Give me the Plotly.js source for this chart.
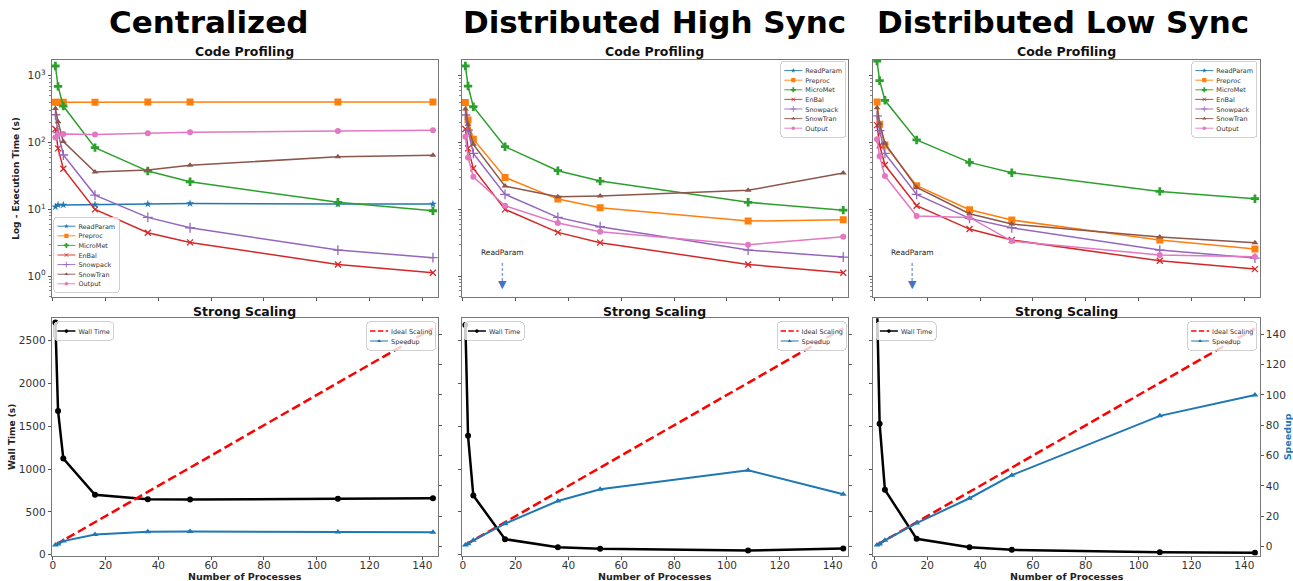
<!DOCTYPE html>
<html><head><meta charset="utf-8">
<script src="https://cdn.plot.ly/plotly-3.0.1.min.js"></script>
<style>html,body{margin:0;padding:0;background:#fff}#chart{width:1293px;height:581px}</style>
</head><body><div id="chart"></div>
<script>
// ---------------- DATA ----------------
const procs = [1, 2, 4, 16, 36, 52, 108, 144];
const seriesNames = ['ReadParam','Preproc','MicroMet','EnBal','Snowpack','SnowTran','Output'];
const panelTitles = ['Centralized','Distributed High Sync','Distributed Low Sync'];

// Code profiling, execution time (s)
const cen_ReadParam = [10.9, 11.6, 11.6, 11.7, 12.0, 12.2, 12.0, 12.0];
const cen_Preproc   = [400, 400, 400, 400, 402, 403, 404, 405];
const cen_MicroMet  = [1396, 692, 351, 83.6, 37.3, 25.8, 12.7, 9.5];
const cen_EnBal     = [159, 81.6, 40.4, 9.96, 4.45, 3.19, 1.49, 1.12];
const cen_Snowpack  = [260, 140, 64.9, 16.3, 7.55, 5.28, 2.45, 1.88];
const cen_SnowTran  = [324, 204, 103, 36, 38.6, 45.4, 61.2, 64.1];
const cen_Output    = [119, 132, 134, 132, 137, 142, 148, 153];

const hs_ReadParam = [0.30, 0.22, 0.18, 0.12, 0.10, 0.09, 0.08, 0.08];
const hs_Preproc   = [398, 217, 112, 30, 14.2, 10.5, 6.65, 6.97];
const hs_MicroMet  = [1396, 700, 343, 86.5, 37.8, 26.4, 12.7, 9.7];
const hs_EnBal     = [159, 81.6, 40.9, 9.96, 4.5, 3.16, 1.49, 1.12];
const hs_Snowpack  = [258, 153, 68.7, 16.7, 7.55, 5.47, 2.45, 1.92];
const hs_SnowTran  = [317, 187, 93.7, 22.2, 15.4, 15.8, 19.2, 34.8];
const hs_Output    = [122, 59.8, 30.7, 11.3, 6.21, 4.6, 2.94, 3.88];

const ls_ReadParam = [0.30, 0.22, 0.18, 0.12, 0.10, 0.09, 0.08, 0.08];
const ls_Preproc   = [404, 187, 91.6, 22.5, 9.84, 6.89, 3.46, 2.54];
const ls_MicroMet  = [1660, 841, 428, 109, 50.3, 35.2, 18.5, 14.4];
const ls_EnBal     = [182, 90.6, 45.9, 11.3, 5.05, 3.46, 1.69, 1.27];
const ls_Snowpack  = [250, 150, 68.7, 16.7, 7.3, 5.28, 2.45, 1.86];
const ls_SnowTran  = [332, 193, 97, 21.2, 8.57, 6.0, 3.83, 3.15];
const ls_Output    = [112, 62, 31.4, 7.9, 7.55, 3.34, 2.06, 1.95];

// Strong scaling
const cen_wall = [2706, 1677, 1122, 699, 648, 644, 652, 660];
const hs_wall  = [2679, 1386, 691, 182, 89, 70, 50, 74];
const ls_wall  = [2950, 1526, 757, 186, 89, 58, 31, 23];
const cen_speedup = [1, 1.6, 3.5, 7.8, 9.7, 9.9, 9.5, 9.3];
const hs_speedup  = [1, 1.8, 4, 15, 30, 37.7, 50.3, 34.4];
const ls_speedup  = [1, 1.6, 4, 15.4, 31.8, 47, 86.2, 100];
const ideal_speedup = [1, 2, 4, 16, 36, 52, 108, 144];

const logTickVals = [1, 10, 100, 1000];
const logTickText = ['10<sup>0</sup>','10<sup>1</sup>','10<sup>2</sup>','10<sup>3</sup>'];

// ---------------- LAYOUT HELPERS ----------------
const W = 1293, H = 581;
const fx = v => v / W;
const fy = v => 1 - v / H;
const FONT = 'DejaVu Sans, Liberation Sans, sans-serif';
const xDom = [[51.7, 437.7], [461.7, 848], [873.3, 1259.7]].map(d => [fx(d[0]), fx(d[1])]);
const topDom = [fy(297), fy(60)];
const botDom = [fy(555.5), fy(318.3)];
const xRange = [-0.4, 145.8];
const logRange = [-0.314, 3.235];
const wallRange = [-8, 2756];
const spRange = [-6, 150.6];

const styles = {
  ReadParam: {color:'#1f77b4', symbol:'star', size:6},
  Preproc:   {color:'#ff7f0e', symbol:'square', size:7},
  MicroMet:  {color:'#2ca02c', symbol:'cross', size:7},
  EnBal:     {color:'#d62728', symbol:'x-thin', size:6, thin:true},
  Snowpack:  {color:'#9467bd', symbol:'cross-thin', size:7, thin:true},
  SnowTran:  {color:'#8c564b', symbol:'triangle-up', size:6},
  Output:    {color:'#e377c2', symbol:'circle', size:6}
};

const profileData = [
  {ReadParam:cen_ReadParam, Preproc:cen_Preproc, MicroMet:cen_MicroMet, EnBal:cen_EnBal, Snowpack:cen_Snowpack, SnowTran:cen_SnowTran, Output:cen_Output},
  {ReadParam:hs_ReadParam, Preproc:hs_Preproc, MicroMet:hs_MicroMet, EnBal:hs_EnBal, Snowpack:hs_Snowpack, SnowTran:hs_SnowTran, Output:hs_Output},
  {ReadParam:ls_ReadParam, Preproc:ls_Preproc, MicroMet:ls_MicroMet, EnBal:ls_EnBal, Snowpack:ls_Snowpack, SnowTran:ls_SnowTran, Output:ls_Output}
];
const wallData = [cen_wall, hs_wall, ls_wall];
const speedData = [cen_speedup, hs_speedup, ls_speedup];

const traces = [];
profileData.forEach((pd, p) => {
  const xa = p === 0 ? 'x' : 'x' + (p + 1);
  const ya = p === 0 ? 'y' : 'y' + (p + 1);
  const lg = p === 0 ? 'legend' : 'legend' + (p + 1);
  seriesNames.forEach(n => {
    const st = styles[n];
    const mk = {symbol: st.symbol, size: st.size, color: st.color};
    if (st.thin) mk.line = {color: st.color, width: 1.3};
    traces.push({x: procs, y: pd[n], xaxis: xa, yaxis: ya, name: n, legend: lg,
      mode: 'lines+markers', line: {color: st.color, width: 1.5}, marker: mk, cliponaxis: true});
  });
});
for (let p = 0; p < 3; p++) {
  const xa = 'x' + (p + 4), yw = 'y' + (p + 4), ys = 'y' + (p + 7);
  traces.push({x: procs, y: wallData[p], xaxis: xa, yaxis: yw, name: 'Wall Time', legend: 'legend' + (4 + 2 * p),
    mode: 'lines+markers', line: {color: 'black', width: 2.5}, marker: {symbol: 'circle', size: 6, color: 'black'}});
  traces.push({x: procs, y: ideal_speedup, xaxis: xa, yaxis: ys, name: 'Ideal Scaling', legend: 'legend' + (5 + 2 * p),
    mode: 'lines', line: {color: 'red', width: 2.5, dash: '9px,4px'}});
  traces.push({x: procs, y: speedData[p], xaxis: xa, yaxis: ys, name: 'Speedup', legend: 'legend' + (5 + 2 * p),
    mode: 'lines+markers', line: {color: '#1f77b4', width: 2}, marker: {symbol: 'triangle-up', size: 6, color: '#1f77b4'}});
}

const frame = {showline: true, linecolor: '#777', linewidth: 1, mirror: true, ticks: 'outside', ticklen: 3,
  tickwidth: 1, tickcolor: '#555', zeroline: false, showgrid: false, tickfont: {size: 10.5, color: '#333', family: FONT}};

const layout = {
  width: W, height: H, margin: {l: 0, r: 0, t: 0, b: 0}, paper_bgcolor: '#fff', plot_bgcolor: '#fff',
  font: {family: FONT, color: '#222'}, showlegend: true, annotations: [], shapes: []
};

for (let p = 0; p < 3; p++) {
  const sx = p === 0 ? '' : String(p + 1);
  layout['xaxis' + sx] = Object.assign({}, frame, {domain: xDom[p], range: xRange, tick0: 0, dtick: 20,
    showticklabels: false, anchor: 'y' + sx});
  layout['yaxis' + sx] = Object.assign({}, frame, {domain: topDom, type: 'log', range: logRange,
    tickmode: 'array', tickvals: logTickVals, ticktext: logTickText, showticklabels: p === 0, anchor: 'x' + sx,
    minor: {ticks: 'outside', ticklen: 2, tickwidth: 0.8, tickcolor: '#666', dtick: 'D1', showgrid: false}});
  const bx = String(p + 4), sy = String(p + 7);
  layout['xaxis' + bx] = Object.assign({}, frame, {domain: xDom[p], range: xRange, tick0: 0, dtick: 20,
    anchor: 'y' + bx, ticklabelstandoff: -3});
  layout['yaxis' + bx] = Object.assign({}, frame, {domain: botDom, range: wallRange, tick0: 0, dtick: 500,
    showticklabels: p === 0, anchor: 'x' + bx});
  layout['yaxis' + sy] = Object.assign({}, frame, {range: spRange, tick0: 0, dtick: 20, overlaying: 'y' + bx,
    side: 'right', anchor: 'x' + bx, showticklabels: p === 2, mirror: false});
  // x-axis title of bottom panels
  layout.annotations.push({text: '<b>Number of Processes</b>', xref: 'paper', yref: 'paper',
    x: (xDom[p][0] + xDom[p][1]) / 2, y: fy(576.5), xanchor: 'center', yanchor: 'middle', showarrow: false,
    font: {size: 9.5, color: '#222', family: FONT}});
}
layout.yaxis.title = {text: '<b>Log - Execution Time (s)</b>', font: {size: 9, color: '#222'}, standoff: 6};
layout.yaxis4.title = {text: '<b>Wall Time (s)</b>', font: {size: 9, color: '#222'}, standoff: 1};
layout.yaxis9.title = {text: '<b>Speedup</b>', font: {size: 9.5, color: '#1f77b4'}, standoff: 6};

// legends (positions fixed after drawing)
const legBase = {font: {size: 10.8, color: '#333', family: FONT}, bgcolor: 'rgba(255,255,255,0.8)',
  bordercolor: '#cccccc', borderwidth: 1.5, xref: 'paper', yref: 'paper', xanchor: 'left', yanchor: 'top', x: 0, y: 1};
for (let i = 1; i <= 9; i++) layout[i === 1 ? 'legend' : 'legend' + i] = Object.assign({}, legBase);

// titles
const bigCenters = [208, 655, 1063];
panelTitles.forEach((t, p) => {
  layout.annotations.push({text: '<b>' + t + '</b>', xref: 'paper', yref: 'paper', x: fx(bigCenters[p]), y: fy(22),
    xanchor: 'center', yanchor: 'middle', showarrow: false, font: {size: 31, color: '#000', family: FONT}});
  const cx = (xDom[p][0] + xDom[p][1]) / 2;
  layout.annotations.push({text: '<b>Code Profiling</b>', xref: 'paper', yref: 'paper', x: cx, y: fy(52),
    xanchor: 'center', yanchor: 'middle', showarrow: false, font: {size: 12.5, color: '#111', family: FONT}});
  layout.annotations.push({text: '<b>Strong Scaling</b>', xref: 'paper', yref: 'paper', x: cx, y: fy(311),
    xanchor: 'center', yanchor: 'middle', showarrow: false, font: {size: 12.5, color: '#111', family: FONT}});
});
// "ReadParam" off-axis pointer in distributed panels
[['x2', 15], ['x3', 14.3]].forEach(([xr, xv]) => {
  layout.annotations.push({text: 'ReadParam', xref: xr, yref: 'paper', x: xv, y: fy(253), xanchor: 'center',
    yanchor: 'middle', showarrow: false, font: {size: 7.5, color: '#222', family: FONT}});
  layout.shapes.push({type: 'line', xref: xr, yref: 'paper', x0: xv, x1: xv, y0: fy(263), y1: fy(281),
    line: {color: 'rgba(68,114,196,0.65)', width: 1.5, dash: '3px,2px'}});
  layout.annotations.push({text: '▼', xref: xr, yref: 'paper', x: xv, y: fy(284.5), xanchor: 'center',
    yanchor: 'middle', showarrow: false, font: {size: 11, color: '#4472c4', family: FONT}});
});

const legSpecs = [
  {id: 'legend',  left: 53.5, bottom: 292.5, step: 16},
  {id: 'legend2', right: 845.5, top: 61, step: 16},
  {id: 'legend3', right: 1256.5, top: 61, step: 16},
  {id: 'legend4', left: 53.5, top: 321.5, step: 16.5},
  {id: 'legend5', right: 435.5, top: 321.5, step: 16.5},
  {id: 'legend6', left: 464, top: 321.5, step: 16.5},
  {id: 'legend7', right: 846, top: 321.5, step: 16.5},
  {id: 'legend8', left: 876, top: 321.5, step: 16.5},
  {id: 'legend9', right: 1256.5, top: 321.5, step: 16.5}
];
function fixLegends() {
  const gd = document.getElementById('chart');
  const s = 0.6;
  const re = /translate\(\s*([-\d.e]+)[ ,]+([-\d.e]+)\s*\)/;
  legSpecs.forEach(sp => {
    const g = gd.querySelector('g.infolayer > g.' + sp.id);
    if (!g) return;
    const items = g.querySelectorAll('g.traces');
    let y0 = null, lastOld = 0, lastNew = 0;
    items.forEach((t, i) => {
      const m = (t.getAttribute('transform') || '').match(re);
      if (!m) return;
      const x = +m[1], y = +m[2];
      if (y0 === null) y0 = y;
      const ny = y0 + i * sp.step;
      t.setAttribute('transform', 'translate(' + x + ',' + ny + ')');
      lastOld = y; lastNew = ny;
    });
    const bg = g.querySelector('rect.bg');
    if (!bg) return;
    const w = +bg.getAttribute('width');
    let h = +bg.getAttribute('height') - (lastOld - lastNew);
    bg.setAttribute('height', h);
    bg.setAttribute('rx', 5); bg.setAttribute('ry', 5);
    const X = sp.left !== undefined ? sp.left : sp.right - w * s;
    const Y = sp.top !== undefined ? sp.top : sp.bottom - h * s;
    g.setAttribute('transform', 'translate(' + X + ',' + Y + ') scale(' + s + ')');
  });
}

Plotly.newPlot('chart', traces, layout, {displayModeBar: false, staticPlot: true}).then(gd => {
  fixLegends();
  gd.on && gd.on('plotly_afterplot', fixLegends);
  setTimeout(fixLegends, 50);
});
</script>
</body></html>
